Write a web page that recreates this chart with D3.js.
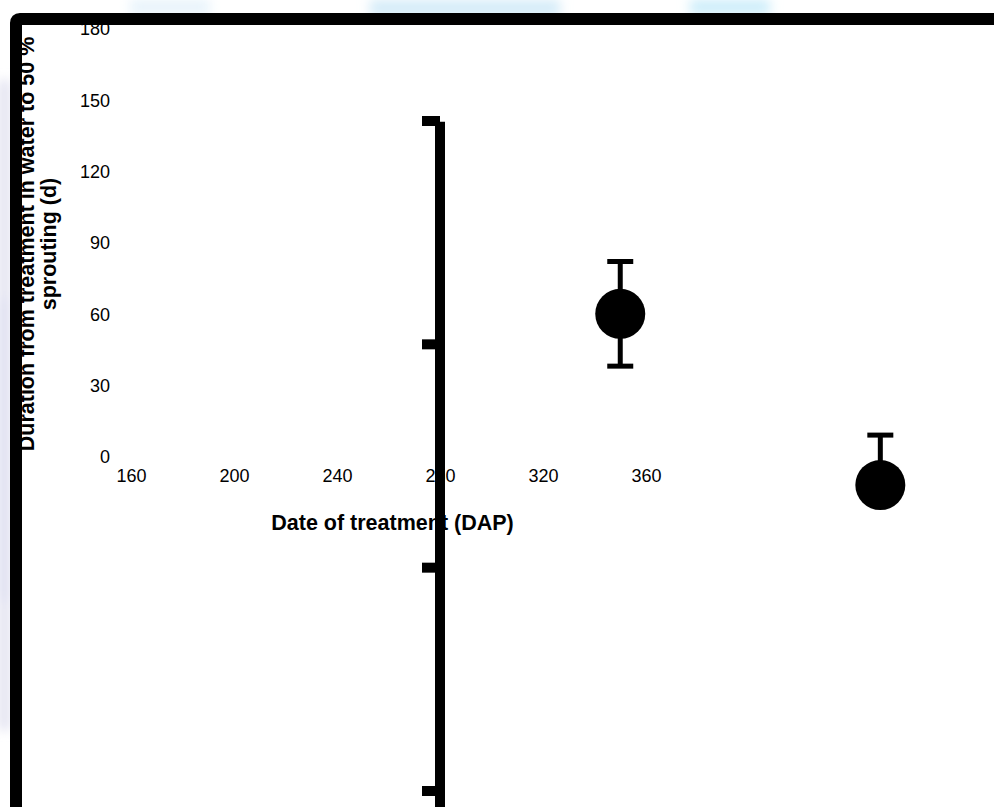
<!DOCTYPE html>
<html>
<head>
<meta charset="utf-8">
<script src="https://cdn.jsdelivr.net/npm/d3@7"></script>
<style>
  html, body { margin: 0; padding: 0; background: #fff; }
  svg { display: block; }
  text { font-family: Arial, "Liberation Sans", sans-serif; fill: #000; }
</style>
</head>
<body>
<div id="chart"></div>
<script>
// ---- data ----
const xTicks = [160, 200, 240, 280, 320, 360];
const yTicks = [0, 30, 60, 90, 120, 150, 180];
const dates = [350, 451];            // Date of treatment (DAP)
const durations = [60, -12];         // Duration to 50 % sprouting (d)
const errUpper = [22, 21];
const errLower = [22, null];
const overlayTicks = [0, 1, 2, 3];
const xTitle = "Date of treatment (DAP)";
const yTitleLines = ["Duration from treatment in water to 50 %", "sprouting (d)"];

const W = 994, H = 807;
const svg = d3.select("#chart").append("svg").attr("width", W).attr("height", H);

// background tint outside the frame (watermark remnants)
const defs = svg.append("defs");
const blur = defs.append("filter").attr("id", "soft").attr("x", "-50%").attr("y", "-50%").attr("width", "200%").attr("height", "200%");
blur.append("feGaussianBlur").attr("stdDeviation", 6);
svg.append("rect").attr("width", W).attr("height", H).attr("fill", "#fff");
const bg = svg.append("g").attr("filter", "url(#soft)");
[[130, 0, 80, 14, "#e6f3fb"], [370, 0, 190, 16, "#d3ebf8"], [690, 0, 80, 14, "#c9ecfa"],
 [0, 80, 9, 650, "#d9d9ec"], [0, 300, 8, 300, "#cfd0ea"]].forEach(d => {
  bg.append("rect").attr("x", d[0]).attr("y", d[1]).attr("width", d[2]).attr("height", d[3]).attr("fill", d[4]);
});

// ---- scales ----
const x = d3.scaleLinear().domain([160, 360]).range([131, 646]);
const y = d3.scaleLinear().domain([0, 180]).range([456.5, 28.5]);
const yo = d3.scaleLinear().domain([0, 3]).range([121, 791]);

// ---- axes (labels only) ----
const yAxis = svg.append("g").attr("transform", "translate(110,0)")
  .call(d3.axisLeft(y).tickValues(yTicks).tickSize(0).tickPadding(0).tickFormat(d3.format("d")));
yAxis.attr("font-size", null).attr("font-family", null);
yAxis.select(".domain").remove();
yAxis.selectAll("text").style("font-size", "18px").attr("fill", "#000").attr("dy", "0.36em");

const xAxis = svg.append("g").attr("transform", "translate(0,469)")
  .call(d3.axisBottom(x).tickValues(xTicks).tickSize(0).tickPadding(0).tickFormat(d3.format("d")));
xAxis.attr("font-size", null).attr("font-family", null);
xAxis.select(".domain").remove();
xAxis.selectAll("text").style("font-size", "18px").attr("fill", "#000");

// ---- titles ----
svg.append("text").attr("x", 392.5).attr("y", 530).attr("text-anchor", "middle")
  .style("font-size", "21.5px").attr("font-weight", "bold").text(xTitle);
const yt = svg.append("text").attr("transform", "translate(34,244) rotate(-90)")
  .attr("text-anchor", "middle").style("font-size", "21.5px").attr("font-weight", "bold");
yTitleLines.forEach((t, i) => {
  yt.append("tspan").attr("x", 0).attr("y", i * 21.7).text(t);
});

// ---- overlaid thick axis ----
const ox = x(280);
svg.append("line").attr("x1", ox).attr("x2", ox).attr("y1", yo(0) + 0.7).attr("y2", H + 5)
  .attr("stroke", "#000").attr("stroke-width", 10);
svg.append("g").selectAll("line").data(overlayTicks).join("line")
  .attr("x1", ox - 18).attr("x2", ox).attr("y1", d => yo(d)).attr("y2", d => yo(d))
  .attr("stroke", "#000").attr("stroke-width", 10);

// ---- error bars & points ----
const pts = dates.map((d, i) => ({ x: d, y: durations[i], up: errUpper[i], lo: errLower[i] }));
const eb = svg.append("g").attr("stroke", "#000").attr("stroke-width", 5);
pts.forEach(p => {
  const cx = x(p.x);
  if (p.up != null) {
    eb.append("line").attr("x1", cx).attr("x2", cx).attr("y1", y(p.y)).attr("y2", y(p.y + p.up));
    eb.append("line").attr("x1", cx - 13).attr("x2", cx + 13).attr("y1", y(p.y + p.up)).attr("y2", y(p.y + p.up));
  }
  if (p.lo != null) {
    eb.append("line").attr("x1", cx).attr("x2", cx).attr("y1", y(p.y)).attr("y2", y(p.y - p.lo));
    eb.append("line").attr("x1", cx - 13).attr("x2", cx + 13).attr("y1", y(p.y - p.lo)).attr("y2", y(p.y - p.lo));
  }
});
svg.append("g").selectAll("circle").data(pts).join("circle")
  .attr("cx", d => x(d.x)).attr("cy", d => y(d.y)).attr("r", 25).attr("fill", "#000");

// ---- frame ----
svg.append("path")
  .attr("d", `M16,${H + 10} V23 Q16,19 20,19 H${W + 10}`)
  .attr("fill", "none").attr("stroke", "#000").attr("stroke-width", 12);
</script>
</body>
</html>
